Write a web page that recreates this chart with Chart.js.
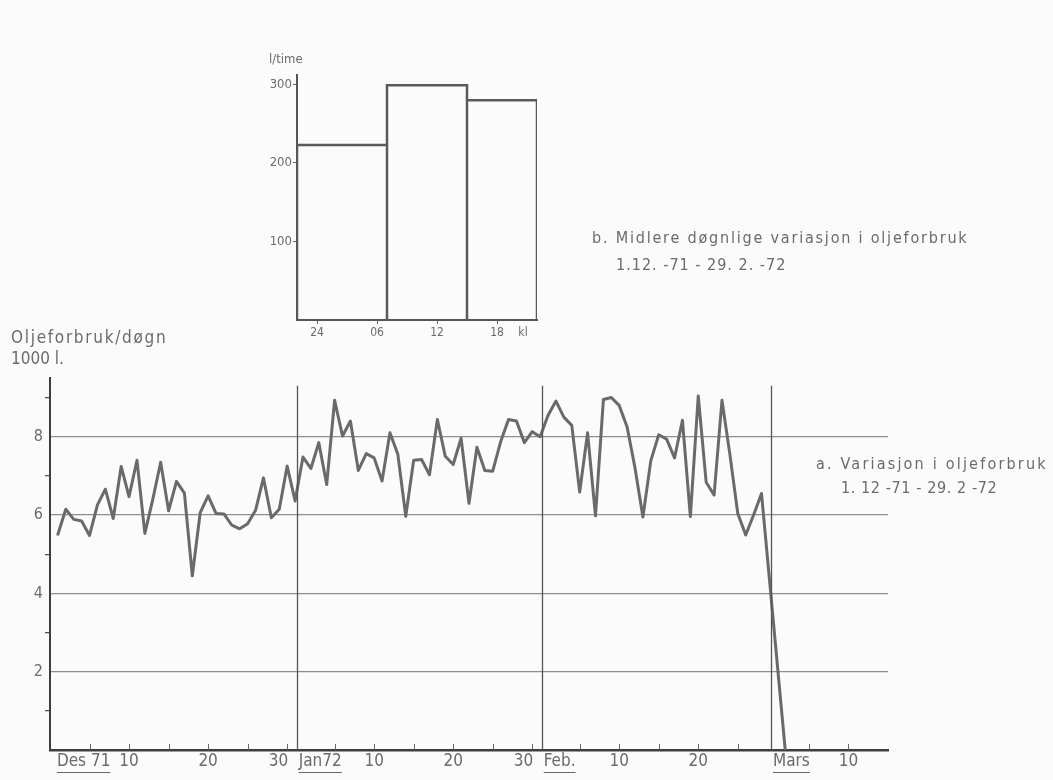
<!DOCTYPE html>
<html>
<head>
<meta charset="utf-8">
<script src="https://cdn.jsdelivr.net/npm/chart.js@4.4.1/dist/chart.umd.min.js"></script>
<style>
html, body { margin: 0; padding: 0; background: #fbfbfb; }
#wrap { position: relative; width: 1053px; height: 780px; overflow: hidden;
  font-family: "DejaVu Sans Condensed", "DejaVu Sans", sans-serif; color: #6b6b6b; }
#main { position: absolute; left: 0; top: 0; }
#inset { position: absolute; left: 240px; top: 50px; }
.txt { position: absolute; white-space: nowrap; line-height: 1.2; }
</style>
</head>
<body>
<div id="wrap">
  <canvas id="main" width="1053" height="780"></canvas>
  <canvas id="inset" width="320" height="300"></canvas>
  <div class="txt" style="left:269px;top:51px;font-size:13px;">l/time</div>
  <div class="txt" style="left:11px;top:327px;font-size:17px;letter-spacing:1.7px;">Oljeforbruk/døgn</div>
  <div class="txt" style="left:11px;top:348px;font-size:17px;">1000 l.</div>
  <div class="txt" style="left:592px;top:228px;font-size:16px;letter-spacing:1.8px;">b. Midlere døgnlige variasjon i oljeforbruk</div>
  <div class="txt" style="left:616px;top:255px;font-size:16px;letter-spacing:1px;">1.12. -71 - 29. 2. -72</div>
  <div class="txt" style="left:816px;top:454px;font-size:16px;letter-spacing:2.2px;">a. Variasjon i oljeforbruk</div>
  <div class="txt" style="left:841px;top:478px;font-size:16px;letter-spacing:0.6px;">1. 12 -71 - 29. 2 -72</div>
</div>
<script>
// daily oil use, 1000 l, day 0 = 1 Dec 1971
const oil = [
  5.51, 6.15, 5.89, 5.85, 5.48, 6.26, 6.66, 5.91, 7.24, 6.47,
  7.40, 5.53, 6.40, 7.35, 6.11, 6.86, 6.56, 4.45, 6.06, 6.49,
  6.04, 6.03, 5.74, 5.65, 5.78, 6.12, 6.95, 5.93, 6.15, 7.25,
  6.36, 7.48, 7.19, 7.85, 6.78, 8.93, 8.02, 8.40, 7.14, 7.57,
  7.46, 6.87, 8.10, 7.55, 5.97, 7.40, 7.42, 7.03, 8.44, 7.50,
  7.29, 7.96, 6.30, 7.73, 7.14, 7.12, 7.87, 8.44, 8.40, 7.85,
  8.13, 8.00, 8.55, 8.91, 8.50, 8.29, 6.59, 8.10, 5.98, 8.95,
  9.00, 8.80, 8.25, 7.20, 5.95, 7.39, 8.05, 7.94, 7.46, 8.42,
  5.96, 9.04, 6.84, 6.51, 8.93, 7.55, 6.04, 5.49, 6.00, 6.55,
  null, null, 0
];
const days = oil.map((v, i) => i);

const monthNames = ['Des 71', 'Jan72', 'Feb.', 'Mars'];
const monthStart = [0, 31, 62, 91];
const monthLen = [31, 31, 29, 14];

const yTicks = [0, 1, 2, 3, 4, 5, 6, 7, 8, 9];
const yLabels = [2, 4, 6, 8];

// inset: mean hourly use, l/time
const hourEdges = [-2, 7, 15, 22];   // kl 22, 07, 15, 22
const hourly = [223, 299, 280];
const hourTicks = [0, 6, 12, 18, 20.6];
const hourLabels = ['24', '06', '12', '18', 'kl'];
const insetTicks = [100, 200, 300];

const FONT = '"DejaVu Sans Condensed", "DejaVu Sans", sans-serif';
const TXT = '#6b6b6b';
const AX = '#3e3e3e';

const xTicks = [];
const xNum = {};
monthStart.forEach((s, m) => {
  for (let d = 5; d <= monthLen[m]; d += 5) {
    xTicks.push(s + d - 1);
    if (d % 10 === 0) xNum[s + d - 1] = String(d);
  }
});

const axisDecor = {
  id: 'axisDecor',
  afterDraw(chart) {
    const ctx = chart.ctx, x = chart.scales.x, y = chart.scales.y;
    const base = y.getPixelForValue(0);
    ctx.save();
    // month dividers
    ctx.strokeStyle = '#555';
    ctx.lineWidth = 1.3;
    for (let m = 1; m < monthStart.length; m++) {
      const px = Math.round(x.getPixelForValue(monthStart[m] - 0.8)) + 0.5;
      ctx.beginPath();
      ctx.moveTo(px, y.getPixelForValue(9.3));
      ctx.lineTo(px, base);
      ctx.stroke();
    }
    // ticks every 5 days, pointing up
    ctx.strokeStyle = '#666';
    ctx.lineWidth = 1;
    xTicks.forEach(d => {
      const px = Math.round(x.getPixelForValue(d)) + 0.5;
      ctx.beginPath();
      ctx.moveTo(px, base);
      ctx.lineTo(px, base - 6);
      ctx.stroke();
    });
    // labels
    ctx.fillStyle = TXT;
    ctx.font = '17px ' + FONT;
    ctx.textBaseline = 'middle';
    const ly = base + 12;
    Object.keys(xNum).forEach(k => {
      const d = +k, lab = xNum[k];
      const px = x.getPixelForValue(d);
      if (lab === '30') { ctx.textAlign = 'right'; ctx.fillText(lab, px + 1, ly); }
      else { ctx.textAlign = 'center'; ctx.fillText(lab, px, ly); }
    });
    ctx.textAlign = 'left';
    ctx.strokeStyle = '#666';
    ctx.lineWidth = 1.2;
    monthNames.forEach((name, m) => {
      const px = m === 0 ? x.getPixelForValue(0) - 1 : x.getPixelForValue(monthStart[m] - 0.8) + 2;
      ctx.fillText(name, px, ly);
      const w = ctx.measureText(name).width;
      ctx.beginPath();
      ctx.moveTo(px, ly + 10.5);
      ctx.lineTo(px + w, ly + 10.5);
      ctx.stroke();
    });
    ctx.restore();
  }
};

new Chart(document.getElementById('main'), {
  type: 'line',
  data: {
    datasets: [{
      data: days.map((d, i) => ({ x: d, y: oil[i] })),
      borderColor: '#6a6a6a',
      borderWidth: 3,
      borderJoinStyle: 'round',
      borderCapStyle: 'round',
      pointRadius: 0,
      tension: 0,
      spanGaps: true
    }]
  },
  options: {
    responsive: false,
    devicePixelRatio: 1,
    animation: false,
    layout: { padding: { left: 0, top: 378, right: 165, bottom: 0 } },
    plugins: { legend: { display: false }, tooltip: { enabled: false } },
    scales: {
      x: {
        type: 'linear', min: -1, max: 105,
        afterBuildTicks: s => { s.ticks = []; },
        afterFit: s => { s.height = 30; },
        grid: { display: false },
        ticks: { display: false },
        border: { color: AX, width: 2.5 }
      },
      y: {
        min: 0, max: 9.5,
        afterBuildTicks: s => { s.ticks = yTicks.map(v => ({ value: v })); },
        afterFit: s => { s.width = 50; },
        grid: {
          color: c => (c.tick && yLabels.includes(c.tick.value)) ? '#8e8e8e' : 'rgba(0,0,0,0)',
          lineWidth: 1.3,
          tickColor: c => (c.tick && c.tick.value % 2 === 1) ? '#555' : 'rgba(0,0,0,0)',
          tickLength: 5
        },
        border: { color: AX, width: 2 },
        ticks: {
          callback: v => yLabels.includes(v) ? String(v) : '',
          color: TXT,
          font: { size: 16, family: FONT },
          padding: 2
        }
      }
    }
  },
  plugins: [axisDecor]
});

// inset bar outline
const outline = [];
hourly.forEach((v, i) => {
  outline.push({ x: hourEdges[i], y: 0 }, { x: hourEdges[i], y: v },
               { x: hourEdges[i + 1], y: v }, { x: hourEdges[i + 1], y: 0 });
});

new Chart(document.getElementById('inset'), {
  type: 'line',
  data: {
    datasets: [{
      data: outline,
      borderColor: '#5a5a5a',
      borderWidth: 2.5,
      pointRadius: 0,
      tension: 0
    }]
  },
  options: {
    responsive: false,
    devicePixelRatio: 1,
    animation: false,
    layout: { padding: { left: 0, top: 25, right: 23, bottom: 0 } },
    plugins: { legend: { display: false }, tooltip: { enabled: false } },
    scales: {
      x: {
        type: 'linear', min: -2, max: 22,
        afterBuildTicks: s => { s.ticks = hourTicks.map(v => ({ value: v })); },
        afterFit: s => { s.height = 30; },
        grid: {
          drawOnChartArea: false,
          tickLength: 4,
          tickColor: c => (c.tick && c.tick.value === 20.6) ? 'rgba(0,0,0,0)' : '#666'
        },
        border: { color: '#555', width: 2 },
        ticks: {
          callback: (v, i) => hourLabels[i],
          color: TXT, font: { size: 12, family: FONT }, padding: 2,
          maxRotation: 0, autoSkip: false
        }
      },
      y: {
        min: 0, max: 312,
        afterBuildTicks: s => { s.ticks = insetTicks.map(v => ({ value: v })); },
        afterFit: s => { s.width = 57; },
        grid: { drawOnChartArea: false, tickLength: 4, tickColor: '#666' },
        border: { color: '#555', width: 2 },
        ticks: { color: TXT, font: { size: 13, family: FONT }, padding: 1 }
      }
    }
  }
});
</script>
</body>
</html>
